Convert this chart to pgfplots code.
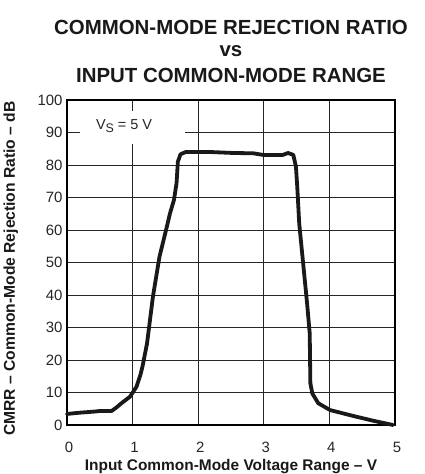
\documentclass[border=0pt]{standalone}
\usepackage{pgfplots}
\pgfplotsset{compat=1.18}
\usepackage{fontspec}
\setmainfont{Liberation Sans}
\begin{document}
\begin{tikzpicture}
\path[use as bounding box] (-67bp,-49bp) rectangle (358bp,425bp);
\begin{axis}[
  at={(0,0)}, anchor=south west,
  width=328bp, height=325bp, scale only axis,
  xmin=0, xmax=5, ymin=0, ymax=100,
  xtick={0,1,2,3,4,5}, ytick={0,10,...,100},
  grid=major,
  major grid style={black!85, line width=0.9bp},
  major tick length=0pt,
  axis line style={black, line width=2.6bp},
  clip=false,
  /pgf/number format/assume math mode=true,
  ticklabel style={font=\fontsize{15}{15}\selectfont, text=black!85},
  xticklabel style={anchor=base, yshift=-27bp, xshift=2bp},
  yticklabel style={anchor=east, xshift=-1bp},
]
\fill[white] (axis cs:0.2,86.4) rectangle (axis cs:1.8,96.6);
\node[anchor=base, font=\fontsize{14.5}{14.5}\selectfont, text=black!85] at (axis cs:0.87,90.8)
  {V\raisebox{-0.35ex}{\fontsize{12.5}{12.5}\selectfont S} = 5 V};
\addplot[black!90, line width=3.8bp, line join=round, line cap=round] coordinates {
(0,3.4) (0.20,3.8) (0.40,4.1) (0.50,4.3) (0.68,4.3) (0.76,5.5) (0.83,6.7) (0.96,8.7)
(1.06,11.8) (1.12,15.5) (1.15,17.9) (1.22,25.1) (1.31,39.5) (1.41,51.8) (1.51,60)
(1.57,65.1) (1.63,69.2) (1.67,74.4) (1.69,81) (1.73,83.3) (1.81,84) (2.18,84)
(2.53,83.7) (2.84,83.6) (2.99,83.1) (3.29,83.1) (3.37,83.7) (3.45,83.1) (3.49,79.5)
(3.51,73.3) (3.54,62) (3.60,49.7) (3.66,37.4) (3.70,28.2) (3.71,12.8) (3.74,9.7)
(3.83,6.7) (4.01,4.6) (4.36,2.8) (4.67,1.3) (4.97,0)
};
\node[anchor=base, font=\fontsize{20.5}{20.5}\selectfont\bfseries, text=black!90]
  at ([yshift=65bp]rel axis cs:0.5,1) {COMMON-MODE REJECTION RATIO};
\node[anchor=base, font=\fontsize{20.5}{20.5}\selectfont\bfseries, text=black!90]
  at ([yshift=43bp]rel axis cs:0.5,1) {vs};
\node[anchor=base, font=\fontsize{20.5}{20.5}\selectfont\bfseries, text=black!90]
  at ([yshift=17bp]rel axis cs:0.5,1) {INPUT COMMON-MODE RANGE};
\node[anchor=base, font=\fontsize{15.5}{15.5}\selectfont\bfseries, text=black!90]
  at ([yshift=-45.3bp]rel axis cs:0.5,0) {Input Common-Mode Voltage Range -- V};
\node[anchor=base, rotate=90, font=\fontsize{15.7}{15.7}\selectfont\bfseries, text=black!90]
  at ([xshift=-52bp,yshift=-6bp]rel axis cs:0,0.5) {CMRR -- Common-Mode Rejection Ratio -- dB};
\end{axis}
\end{tikzpicture}
\end{document}
